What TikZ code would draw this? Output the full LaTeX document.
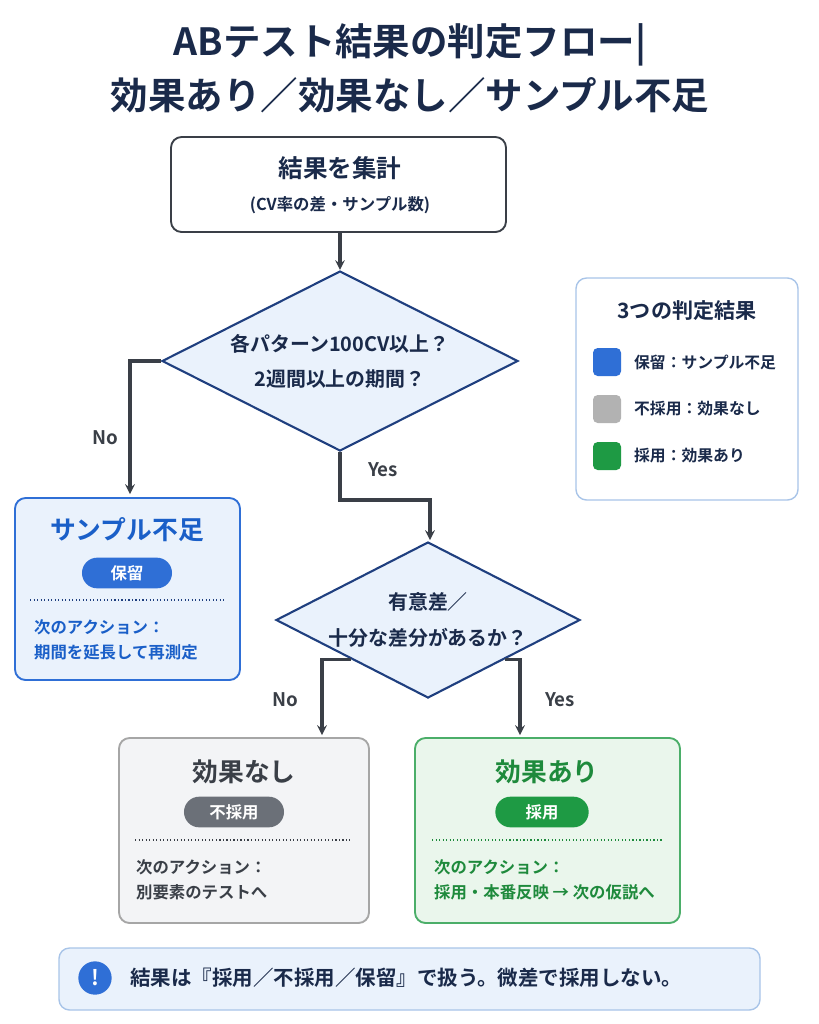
\documentclass[tikz,border=0pt]{standalone}
\usepackage{fontspec}
\setmainfont{Noto Sans CJK JP}[BoldFont={Noto Sans CJK JP Bold}]
\usetikzlibrary{calc,positioning,arrows,shapes.geometric}
\definecolor{navy}{HTML}{1A2A4A}
\definecolor{lineg}{HTML}{3A3F47}
\definecolor{dblue}{HTML}{1F3F7F}
\definecolor{bblue}{HTML}{2F6FD6}
\definecolor{tblue}{HTML}{1A5FC8}
\definecolor{ggray}{HTML}{6B7078}
\definecolor{ggreen}{HTML}{1E9A44}
\definecolor{tgreen}{HTML}{1E8A3C}
\definecolor{lblue}{HTML}{A8C4E8}
\definecolor{pblue}{HTML}{EAF2FC}
\definecolor{pgreen}{HTML}{EAF6EC}
\definecolor{pgray}{HTML}{F3F4F6}
\tikzset{
  flow/.style={->,>=stealth,line width=2.6pt,color=lineg},
  decision/.style={diamond,draw=dblue,line width=1.8pt,fill=pblue,inner sep=0pt},
  card/.style={draw,rounded corners=9pt,line width=1.6pt},
  pill/.style={rounded corners=13pt,text=white,font=\bfseries\fontsize{14}{16}\selectfont,minimum height=0.92cm},
  lbl/.style={font=\bfseries\fontsize{16}{18}\selectfont,text=lineg},
  note/.style={anchor=west,font=\bfseries\fontsize{14}{21}\selectfont,align=left}
}
\begin{document}
\begin{tikzpicture}[x=0.03cm,y=-0.03cm]
  \useasboundingbox (0,0) rectangle (819,1024);
  % title
  \node[text=navy,font=\bfseries\fontsize{32}{36}\selectfont] (title1) at (410,45) {ABテスト結果の判定フロー|};
  \node[text=navy,font=\bfseries\fontsize{32}{36}\selectfont] (title2) at (410,95) {効果あり／効果なし／サンプル不足};
  % start
  \draw[card,draw=lineg,fill=white] (171,137) rectangle (506,232);
  \node[text=navy,font=\bfseries\fontsize{21}{24}\selectfont] (sum) at (340,168) {結果を集計};
  \node[text=navy,font=\bfseries\fontsize{14}{17}\selectfont] (sumsub) at (340,205) {(CV率の差・サンプル数)};
  \coordinate (sumbot) at (340,232);
  % first check
  \node[decision,minimum width=10.68cm,minimum height=5.4cm] (d1) at (340,361) {};
  \node[text=navy,font=\bfseries\fontsize{17}{30}\selectfont,align=center] at (d1) {各パターン100CV以上？\\2週間以上の期間？};
  \draw[flow] (sumbot) -- (d1.north);
  % second check
  \node[decision,minimum width=9.12cm,minimum height=4.68cm] (d2) at (428,620) {};
  \node[text=navy,font=\bfseries\fontsize{17}{30}\selectfont,align=center] at (d2) {有意差／\\十分な差分があるか？};
  % hold
  \draw[card,draw=bblue,fill=pblue] (15,498) rectangle (240,680);
  \node[text=tblue,font=\bfseries\fontsize{22}{25}\selectfont] (hold) at (127,530) {サンプル不足};
  \node[pill,fill=bblue,minimum width=2.7cm] (holdtag) at (127,573) {保留};
  \draw[dotted,line width=1pt,color=dblue] (30,600) -- (225,600);
  \node[note,text=tblue] (holdnote) at (30,640) {次のアクション：\\期間を延長して再測定};
  % reject
  \draw[card,draw=gray!70,fill=pgray] (119,738) rectangle (369,923);
  \node[text=lineg,font=\bfseries\fontsize{22}{25}\selectfont] (nogo) at (244,772) {効果なし};
  \node[pill,fill=ggray,minimum width=3cm] (nogotag) at (234,812) {不採用};
  \draw[dotted,line width=1pt,color=lineg] (135,840) -- (350,840);
  \node[note,text=lineg] (nogonote) at (132,880) {次のアクション：\\別要素のテストへ};
  % adopt
  \draw[card,draw=ggreen!80,fill=pgreen] (415,738) rectangle (680,923);
  \node[text=tgreen,font=\bfseries\fontsize{22}{25}\selectfont] (go) at (547,772) {効果あり};
  \node[pill,fill=ggreen,minimum width=2.8cm] (gotag) at (542,812) {採用};
  \draw[dotted,line width=1pt,color=tgreen] (432,840) -- (663,840);
  \node[note,text=tgreen] (gonote) at (430,880) {次のアクション：\\採用・本番反映 → 次の仮説へ};
  % connectors
  \coordinate (holdtop) at (130,494);
  \coordinate (d2top) at (430,540);
  \coordinate (d2l) at ($(d2.south)!0.5!(d2.west)$);
  \coordinate (d2r) at ($(d2.south)!0.5!(d2.east)$);
  \coordinate (nogotop) at (322,735);
  \coordinate (gotop) at (520,735);
  \draw[flow] (d1.west) -- (130,361) -- (holdtop);
  \draw[flow] (d1.south) -- (340,500) -- (430,500) -- (d2top);
  \draw[flow] (d2l) -- (nogotop |- d2l) -- (nogotop);
  \draw[flow] (d2r) -- (gotop |- d2r) -- (gotop);
  \node[lbl] (no1) at (105,438) {No};
  \node[lbl] (yes1) at (383,470) {Yes};
  \node[lbl] (no2) at (285,700) {No};
  \node[lbl] (yes2) at (560,700) {Yes};
  % legend
  \draw[card,draw=lblue,fill=white,line width=1.2pt] (576,278) rectangle (798,500);
  \node[text=navy,font=\bfseries\fontsize{18}{20}\selectfont] (legend) at (687,311) {3つの判定結果};
  \foreach \yy/\cc/\tt in {362/bblue/保留：サンプル不足,409/gray!60/不採用：効果なし,456/ggreen/採用：効果あり}
  {
    \fill[\cc,rounded corners=4pt] (593,\yy-14) rectangle (621,\yy+14);
    \node[anchor=west,text=navy,font=\bfseries\fontsize{13.5}{15}\selectfont] at (630,\yy) {\tt};
  }
  % bottom note
  \draw[card,draw=lblue,fill=pblue,line width=1.2pt] (59,948) rectangle (760,1010);
  \fill[bblue] (95,978) circle (0.5cm);
  \node[text=white,font=\bfseries\fontsize{18}{20}\selectfont] (bang) at (95,978) {!};
  \node[anchor=west,text=navy,font=\bfseries\fontsize{17.5}{20}\selectfont] (rule) at (126,978) {結果は『採用／不採用／保留』で扱う。微差で採用しない。};
\end{tikzpicture}
\end{document}
